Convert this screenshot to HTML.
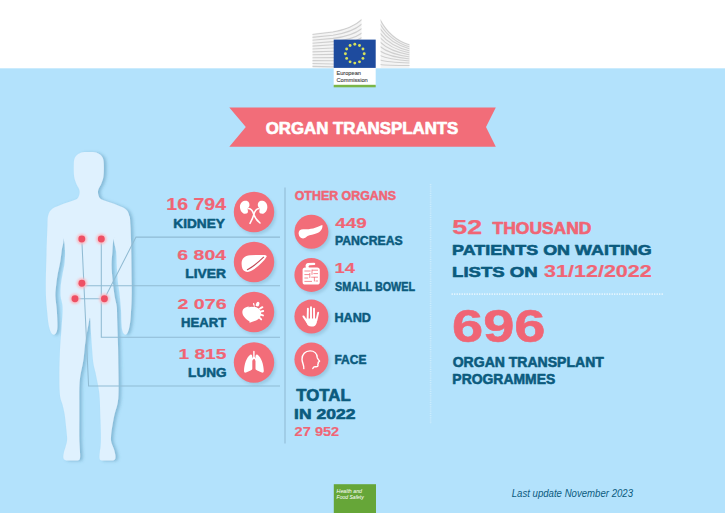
<!DOCTYPE html>
<html><head><meta charset="utf-8"><title>Organ transplants</title>
<style>
html,body{margin:0;padding:0;background:#b3e2fc;}
body{width:725px;height:513px;overflow:hidden;font-family:"Liberation Sans",sans-serif;}
svg{display:block}
svg text{font-family:"Liberation Sans",sans-serif;}
</style></head><body>
<svg width="725" height="513" viewBox="0 0 725 513">
<defs>
  <filter id="sh" x="-30%" y="-30%" width="160%" height="160%"><feGaussianBlur stdDeviation="1.6"/></filter>
  <filter id="halo" x="-50%" y="-50%" width="200%" height="200%"><feGaussianBlur stdDeviation="1.0"/></filter>
  <clipPath id="lw"><path d="M312.5,33.5 L333,31 C345,29 355,25 361.5,18.5 L361.5,68 L312.5,68 Z"/></clipPath>
  <clipPath id="rw"><path d="M380.6,18.5 C386,30 396,40 409.5,44 L409.5,68 L380.6,68 Z"/></clipPath>
</defs>
<!-- background -->
<rect x="0" y="0" width="725" height="513" fill="#b3e2fc"/>
<rect x="0" y="0" width="725" height="68.3" fill="#ffffff"/>
<!-- LOGO -->
<g id="logo">
  <g clip-path="url(#lw)">
    <rect x="312" y="18" width="50" height="50" fill="#f4f4f4"/>
    <g stroke="#cfcfcf" stroke-width="1.1" fill="none">
      <path d="M312,34.5 L333,32 C345,30 355,26 362,19.5"/>
      <path d="M312,37.4 L333,35.2 C345,33.5 355,30 362,24"/>
      <path d="M312,40.3 L333,38.4 C345,37 355,34 362,28.5"/>
      <path d="M312,43.2 L333,41.6 C345,40.5 355,38 362,33"/>
      <path d="M312,46.1 L333,44.8 C345,44 355,42 362,37.5"/>
      <path d="M312,49 L333,48 C345,47.5 355,46 362,42"/>
      <path d="M312,51.9 L333,51.2 C345,51 355,50 362,46.5"/>
      <path d="M312,54.8 L333,54.4 C345,54.4 355,54 362,51"/>
      <path d="M312,57.7 L333,57.6 C345,57.8 355,58 362,55.5"/>
      <path d="M312,60.6 L333,60.8 C345,61.2 355,61.5 362,60"/>
      <path d="M312,63.5 L333,64 C345,64.5 355,65 362,64.5"/>
      <path d="M312,66.4 L362,67.5"/>
    </g>
  </g>
  <g clip-path="url(#rw)">
    <rect x="380" y="18" width="30" height="50" fill="#f4f4f4"/>
    <g stroke="#cfcfcf" stroke-width="1.1" fill="none">
      <path d="M380,19.5 C386,31 396,41 410,45"/>
      <path d="M380,24 C386,34 396,43 410,47"/>
      <path d="M380,28.5 C386,37.5 396,45 410,49"/>
      <path d="M380,33 C386,41 396,47.5 410,51"/>
      <path d="M380,37.5 C386,44.5 396,50 410,53"/>
      <path d="M380,42 C386,48 396,52.5 410,55"/>
      <path d="M380,46.5 C386,51.5 396,55 410,57"/>
      <path d="M380,51 C386,55 396,57.5 410,59"/>
      <path d="M380,55.5 C386,58.5 396,60 410,61"/>
      <path d="M380,60 C386,62 396,62.5 410,63"/>
      <path d="M380,64.5 C386,65.5 396,65.5 410,65.5"/>
    </g>
  </g>
  <rect x="333.7" y="67" width="42" height="18.5" fill="#ffffff"/>
  <rect x="333.7" y="84.8" width="42" height="2.5" fill="#7ab648"/>
  <rect x="333.7" y="39.6" width="42" height="28.3" fill="#1e4b9e"/>
  <g fill="#d8e25c"><circle cx="354.80" cy="44.30" r="1.45"/><circle cx="359.50" cy="45.56" r="1.45"/><circle cx="362.94" cy="49.00" r="1.45"/><circle cx="364.20" cy="53.70" r="1.45"/><circle cx="362.94" cy="58.40" r="1.45"/><circle cx="359.50" cy="61.84" r="1.45"/><circle cx="354.80" cy="63.10" r="1.45"/><circle cx="350.10" cy="61.84" r="1.45"/><circle cx="346.66" cy="58.40" r="1.45"/><circle cx="345.40" cy="53.70" r="1.45"/><circle cx="346.66" cy="49.00" r="1.45"/><circle cx="350.10" cy="45.56" r="1.45"/></g>
  <text x="336.4" y="75.1" font-size="5.8" fill="#444" stroke="#444" stroke-width="0.12" textLength="24.6" lengthAdjust="spacingAndGlyphs">European</text>
  <text x="336.4" y="81.9" font-size="5.8" fill="#444" stroke="#444" stroke-width="0.12" textLength="31.4" lengthAdjust="spacingAndGlyphs">Commission</text>
</g>
<!-- RIBBON -->
<polygon points="229.3,107.4 495.8,107.4 486,127.1 495.8,146.8 229.3,146.8 245.8,127.1" fill="#f26d79"/>
<!-- BODY -->
<g id="body">
<filter id="bsh" x="-20%" y="-5%" width="150%" height="110%"><feDropShadow dx="2.6" dy="0.6" stdDeviation="1.4" flood-color="#2f7596" flood-opacity="0.36"/></filter>
<g filter="url(#bsh)">
<path d="M129.2,216.0 C130.3,217.2 130.1,221.0 130.4,225.0 C130.7,229.0 130.8,235.2 131.0,240.0 C131.2,244.8 131.2,246.5 131.3,254.0 C131.4,261.5 131.6,277.3 131.7,285.0 C131.8,292.7 131.7,295.5 131.6,300.0 C131.5,304.5 131.2,308.3 131.0,312.0 C130.8,315.7 130.6,319.1 130.2,322.0 C129.8,324.9 129.4,327.4 128.8,329.5 C128.2,331.6 127.2,333.6 126.4,334.3 C125.6,335.1 124.7,334.7 124.0,334.0 C123.3,333.3 122.6,332.0 122.2,330.0 C121.8,328.0 121.6,325.3 121.4,322.0 C121.2,318.7 121.3,314.3 121.0,310.0 C120.7,305.7 120.3,300.8 119.8,296.0 C119.3,291.2 118.3,286.0 117.8,281.0 C117.3,276.0 117.1,270.8 116.8,266.0 C116.5,261.2 116.7,256.5 116.2,252.0 C115.7,247.5 113.6,243.0 113.9,239.0 C114.2,235.0 116.3,231.5 118.0,228.0 C119.7,224.5 122.1,220.0 124.0,218.0 C125.9,216.0 128.1,214.8 129.2,216.0 Z" fill="#dff1fe"/>
<path d="M88.8,152.0 C90.9,152.0 93.1,151.9 95.0,152.3 C96.9,152.7 98.7,153.5 100.0,154.5 C101.3,155.5 102.4,156.9 103.0,158.5 C103.6,160.1 103.7,161.8 103.8,164.0 C103.9,166.2 103.9,169.7 103.8,172.0 C103.7,174.3 103.6,176.0 103.2,178.0 C102.8,180.0 101.9,182.2 101.2,184.0 C100.5,185.8 99.3,187.2 98.8,188.5 C98.3,189.8 98.1,190.4 98.0,191.5 C97.9,192.6 98.0,193.8 98.4,195.0 C98.8,196.2 99.1,197.5 100.2,198.5 C101.3,199.5 103.2,200.1 105.0,200.8 C106.8,201.5 109.0,202.1 111.0,202.8 C113.0,203.5 115.1,204.2 117.0,205.0 C118.9,205.8 121.0,206.5 122.6,207.3 C124.2,208.1 125.5,209.0 126.5,210.0 C127.5,211.0 128.2,212.1 128.6,213.4 C129.0,214.7 129.5,215.9 129.2,218.0 C128.9,220.1 128.5,223.3 127.0,226.0 C125.5,228.7 122.2,231.8 120.0,234.0 C117.8,236.2 115.2,236.0 113.9,239.0 C112.6,242.0 112.8,247.7 112.4,252.0 C112.0,256.3 111.6,260.3 111.6,265.0 C111.6,269.7 112.1,274.8 112.6,280.0 C113.1,285.2 113.9,291.5 114.6,296.0 C115.3,300.5 116.4,303.0 116.8,307.0 C117.2,311.0 117.0,313.7 117.2,320.0 C117.4,326.3 117.8,336.7 118.0,345.0 C118.2,353.3 118.3,363.3 118.4,370.0 C118.5,376.7 118.6,380.3 118.6,385.0 C118.6,389.7 118.6,394.5 118.3,398.0 C118.0,401.5 117.7,403.2 117.0,406.0 C116.3,408.8 115.2,411.3 114.4,415.0 C113.6,418.7 112.6,424.3 112.0,428.0 C111.4,431.7 111.1,434.7 111.0,437.0 C110.9,439.3 110.9,440.2 111.3,442.0 C111.7,443.8 112.8,446.0 113.5,448.0 C114.2,450.0 114.9,452.3 115.2,454.0 C115.5,455.7 115.6,457.0 115.4,458.0 C115.2,459.0 115.2,459.8 113.8,460.2 C112.4,460.6 109.1,460.5 107.0,460.5 C104.9,460.5 102.2,460.6 101.0,460.2 C99.8,459.8 99.7,459.4 99.5,458.0 C99.3,456.6 99.6,454.0 99.8,452.0 C100.0,450.0 100.4,448.5 100.6,446.0 C100.8,443.5 100.9,441.3 100.9,437.0 C100.9,432.7 100.7,426.2 100.5,420.0 C100.3,413.8 100.0,404.8 99.8,400.0 C99.5,395.2 99.4,393.8 99.0,391.0 C98.6,388.2 98.2,386.0 97.6,383.0 C97.0,380.0 96.3,376.5 95.6,373.0 C94.9,369.5 93.8,366.7 93.2,362.0 C92.6,357.3 92.2,350.3 91.8,345.0 C91.4,339.7 91.1,334.5 90.8,330.0 C90.5,325.5 90.4,318.6 90.0,317.8 C89.6,317.0 89.0,322.1 88.4,325.0 C87.8,327.9 87.1,331.7 86.5,335.0 C85.9,338.3 85.5,341.3 85.0,345.0 C84.5,348.7 84.2,353.7 83.8,357.0 C83.4,360.3 83.0,362.5 82.5,365.0 C82.0,367.5 81.5,369.5 81.0,372.0 C80.5,374.5 80.1,377.0 79.8,380.0 C79.5,383.0 79.4,386.7 79.3,390.0 C79.2,393.3 79.3,395.0 79.3,400.0 C79.3,405.0 79.3,413.8 79.3,420.0 C79.3,426.2 79.2,432.8 79.3,437.0 C79.3,441.2 79.5,442.5 79.6,445.0 C79.7,447.5 79.9,449.8 80.0,452.0 C80.1,454.2 80.3,456.6 80.0,458.0 C79.7,459.4 79.7,459.8 78.4,460.2 C77.1,460.6 74.1,460.5 72.0,460.5 C69.9,460.5 67.0,460.6 65.6,460.2 C64.2,459.8 63.7,459.2 63.4,458.0 C63.1,456.8 63.4,454.8 63.8,453.0 C64.1,451.2 65.0,449.0 65.5,447.0 C66.0,445.0 66.8,442.8 67.0,441.0 C67.2,439.2 67.2,438.7 67.0,436.0 C66.8,433.3 66.3,428.7 65.9,425.0 C65.5,421.3 65.1,417.3 64.6,414.0 C64.0,410.7 63.3,407.7 62.6,405.0 C61.9,402.3 60.9,400.5 60.4,398.0 C59.9,395.5 59.8,393.0 59.6,390.0 C59.4,387.0 59.4,383.3 59.4,380.0 C59.4,376.7 59.3,375.0 59.4,370.0 C59.5,365.0 59.7,356.7 60.0,350.0 C60.3,343.3 61.0,336.0 61.4,330.0 C61.8,324.0 62.3,318.2 62.5,314.0 C62.7,309.8 62.7,308.0 62.4,305.0 C62.1,302.0 60.9,299.3 60.6,296.0 C60.3,292.7 60.5,288.7 60.8,285.0 C61.1,281.3 62.0,277.7 62.6,274.0 C63.2,270.3 64.2,266.8 64.6,263.0 C65.0,259.2 65.2,255.0 65.0,251.0 C64.8,247.0 64.7,241.8 63.4,239.0 C62.1,236.2 59.1,236.2 57.0,234.0 C54.9,231.8 52.0,228.7 50.5,226.0 C49.0,223.3 48.5,220.1 48.2,218.0 C47.9,215.9 48.3,214.7 48.8,213.4 C49.3,212.1 50.0,211.0 51.0,210.0 C52.0,209.0 53.2,208.1 54.8,207.3 C56.4,206.5 58.5,205.8 60.5,205.0 C62.5,204.2 64.5,203.5 66.5,202.8 C68.5,202.1 70.7,201.5 72.5,200.8 C74.3,200.1 76.3,199.5 77.4,198.5 C78.5,197.5 78.8,196.2 79.2,195.0 C79.6,193.8 79.7,192.6 79.6,191.5 C79.5,190.4 79.3,189.8 78.8,188.5 C78.3,187.2 77.1,185.8 76.4,184.0 C75.7,182.2 74.8,180.0 74.4,178.0 C74.0,176.0 73.9,174.3 73.8,172.0 C73.7,169.7 73.7,166.2 73.8,164.0 C73.9,161.8 74.0,160.1 74.6,158.5 C75.2,156.9 76.3,155.5 77.6,154.5 C78.9,153.5 80.7,152.7 82.6,152.3 C84.5,151.9 86.7,152.0 88.8,152.0 Z" fill="#dff1fe"/>
<path d="M48.3,216.0 C47.4,217.2 47.7,221.0 47.5,225.0 C47.3,229.0 47.1,235.2 46.9,240.0 C46.7,244.8 46.7,246.5 46.5,254.0 C46.3,261.5 45.8,277.3 45.8,285.0 C45.8,292.7 46.0,295.5 46.2,300.0 C46.4,304.5 46.9,308.3 47.2,312.0 C47.5,315.7 47.8,319.1 48.2,322.0 C48.6,324.9 49.1,327.4 49.8,329.5 C50.5,331.6 51.5,333.6 52.5,334.3 C53.5,335.0 54.7,334.6 55.5,333.8 C56.3,333.0 56.9,331.5 57.2,329.5 C57.5,327.5 57.5,325.2 57.4,322.0 C57.3,318.8 57.1,314.3 56.8,310.0 C56.5,305.7 55.5,300.2 55.4,296.0 C55.3,291.8 55.8,288.8 56.2,285.0 C56.6,281.2 57.2,276.8 57.9,273.0 C58.6,269.2 59.6,265.8 60.2,262.0 C60.9,258.2 61.3,253.8 61.8,250.0 C62.3,246.2 63.9,242.7 63.4,239.0 C62.9,235.3 60.7,231.5 59.0,228.0 C57.3,224.5 54.8,220.0 53.0,218.0 C51.2,216.0 49.2,214.8 48.3,216.0 Z" fill="#dff1fe"/>
</g>

</g>
<!-- LEADER LINES -->
<g stroke="#90bbd3" stroke-width="1.05" fill="none">
  <path d="M280,237.1 L136,237.1 L104.4,298.8 L75,298.8"/>
  <path d="M280,285.7 L82,285.7"/>
  <path d="M280,337.2 L101.3,337.2 L101.3,239"/>
  <path d="M280,386 L88.6,386 L81.8,239"/>
  <path d="M285,187.5 L285,443.5"/>
</g>
<!-- DOTS -->
<g>
  <g fill="#f9bcc4" filter="url(#halo)"><circle cx="81.8" cy="239" r="5.2"/><circle cx="101.3" cy="239" r="5.2"/><circle cx="81.9" cy="283.3" r="5.2"/><circle cx="75" cy="298.8" r="5.2"/><circle cx="104.4" cy="298.8" r="5.2"/></g>
  <g fill="#ee5064"><circle cx="81.8" cy="239" r="3.45"/><circle cx="101.3" cy="239" r="3.45"/><circle cx="81.9" cy="283.3" r="3.45"/><circle cx="75" cy="298.8" r="3.45"/><circle cx="104.4" cy="298.8" r="3.45"/></g>
</g>
<!-- CIRCLES -->
<g fill="#6f9db8" opacity="0.35" filter="url(#sh)">
  <circle cx="256" cy="214.5" r="20"/><circle cx="256" cy="264.5" r="20"/><circle cx="256" cy="314.5" r="20"/><circle cx="256" cy="365" r="20"/>
  <circle cx="313.3" cy="234" r="17"/><circle cx="313.3" cy="277.3" r="17"/><circle cx="313.3" cy="319" r="17"/><circle cx="313.3" cy="362" r="17"/>
</g>
<g fill="#f26d79">
  <circle cx="254" cy="212" r="20.2"/><circle cx="254" cy="262" r="20.2"/><circle cx="254" cy="312" r="20.2"/><circle cx="254" cy="362.5" r="20.2"/>
  <circle cx="311.4" cy="231.8" r="17"/><circle cx="311.4" cy="274.9" r="17"/><circle cx="311.4" cy="316.6" r="17"/><circle cx="311.4" cy="359.5" r="17"/>
</g>
<!--ICONS_START-->
<g id="icons" fill="#ffffff" stroke="none">
  <!-- kidney -->
  <g>
    <path transform="translate(244.7,207.2) scale(1.1,1.03) translate(-244.6,-207.4)" d="M244.6,201.2 C247.6,200.6 249.3,203 248.9,206 C248.7,207.6 247.2,207.8 247.3,209.2 C247.4,211 248.3,212.8 246.2,213.6 C243.4,214.4 240.6,211.8 240.3,207.6 C240.1,204.3 241.8,201.7 244.6,201.2 Z"/>
    <path transform="translate(262.6,207.2) scale(1.1,1.03) translate(-263.4,-207.4)" d="M263.4,201.2 C260.4,200.6 258.7,203 259.1,206 C259.3,207.6 260.8,207.8 260.7,209.2 C260.6,211 259.7,212.8 261.8,213.6 C264.6,214.4 267.4,211.8 267.7,207.6 C267.9,204.3 266.2,201.7 263.4,201.2 Z"/>
    <path d="M248.6,208.6 C251.4,209 252.8,211.2 253.6,214 C254.8,217.6 257.2,220.8 260,223" fill="none" stroke="#fff" stroke-width="1.5" stroke-linecap="round"/>
    <path d="M258.8,208.6 C256.2,209 254.8,211.2 254,214 C253,217.6 251.4,220.8 250,223.4" fill="none" stroke="#fff" stroke-width="1.5" stroke-linecap="round"/>
  </g>
  <!-- liver -->
  <g>
    <path d="M241.6,264 C241.4,258.8 244.6,255.4 250,255.2 L262.6,254.9 C265.6,254.9 267.2,255.6 266.6,256.8 C264,261 259.4,265.6 253.6,269.6 C250.6,271.6 247.6,272.4 245.4,271.6 C242.8,270.6 241.7,268 241.6,264 Z"/>
    <path d="M263.6,257.2 C259,261.8 254,266 247.4,269.8" fill="none" stroke="#c04855" stroke-width="1.05" stroke-linecap="round"/>
  </g>
  <!-- heart -->
  <g>
    <path d="M242.4,311.4 C242.8,308.2 246.2,306.4 250.6,306.4 C255.2,306.4 259.6,307.8 260.8,311.4 C261.9,314.8 260.2,318.2 256.6,320.2 C254.6,321.3 252.2,321.4 250.4,322.6 C249.6,323.1 249.2,322.2 249.5,321.3 C246.8,319.6 241.8,315.8 242.4,311.4 Z"/>
    <ellipse cx="257.6" cy="304.4" rx="1.7" ry="2.6" transform="rotate(24 257.6 304.4)"/>
    <path d="M259.8,308.6 L262.4,307.2 M260.6,311.6 L263.2,311 M260.6,314.6 L263,315.4 M259.4,317.6 L261.2,319.4" fill="none" stroke="#fff" stroke-width="1.9" stroke-linecap="round"/>
    <path d="M254.4,306.6 L253.6,303.6" fill="none" stroke="#fff" stroke-width="1.3" stroke-linecap="round"/>
    <path d="M248.6,306.9 C252,305.6 256.4,305.8 259.6,307.6" fill="none" stroke="#dc5d6b" stroke-width="0.7"/>
  </g>
  <!-- lungs -->
  <g>
    <path d="M250.6,354.6 C251.8,354.2 252.3,355.4 252.3,357 L252.3,368.6 C252.3,369.8 251.6,370.2 250.6,370.4 L246,372.6 C244.6,373 244,372.2 244,370.8 C244.2,364.6 246.4,357.4 250.6,354.6 Z"/>
    <path d="M257.2,354.6 C256,354.2 255.5,355.4 255.5,357 L255.5,368.6 C255.5,369.8 256.2,370.2 257.2,370.4 L261.8,372.6 C263.2,373 263.8,372.2 263.8,370.8 C263.6,364.6 261.4,357.4 257.2,354.6 Z"/>
    <path d="M253.9,351.4 L253.9,358.5 M253.9,357 L251,361 M253.9,357 L256.8,361" fill="none" stroke="#fff" stroke-width="1.4" stroke-linecap="round"/>
  </g>
  <!-- pancreas -->
  <g>
    <path d="M298.6,233.6 C298.4,230.4 300.6,229 303.8,229.2 C308,229.5 311.8,229 315.2,227.8 C318.2,226.8 320.4,225.2 322.4,224.9 C322.9,228.4 320.8,231.4 317.4,233 C313.8,234.6 309.8,234.8 307.6,236 C306,236.9 305.6,238.3 303.2,238.4 C300.6,238.5 298.8,236.8 298.6,233.6 Z"/>
  </g>
  <!-- small bowel -->
  <g>
    <rect x="302.6" y="267.4" width="17.2" height="17.2" rx="2.6" ry="2.6"/>
    <path d="M306.6,268.4 C305,266.4 305.2,263.4 308,262.9 L314,262.7 C315.6,262.7 315.8,264.9 314.2,265 L309.8,265.2 C308.6,265.4 308.2,266.6 308.8,267.6 L309.6,268.6 Z"/>
    <g fill="none" stroke="#f26d79" stroke-width="0.8" stroke-linecap="round">
      <path d="M304.8,271 L310.2,271 M312.4,270.2 L317.6,270.2 M312,270 L312,274.4"/>
      <path d="M304.8,274.6 L309.4,274.6 M313.8,273.6 L317.6,273.6 M309.8,273.4 L309.8,277.6"/>
      <path d="M304.8,278 L307.8,278 M311.6,277.2 L317.6,277.2 M314.4,277.4 L314.4,281"/>
      <path d="M304.8,281.4 L311.6,281.4 M316,281 L317.6,281"/>
    </g>
  </g>
  <!-- hand -->
  <g>
    <path d="M306.4,318.6 L306.6,322.6 C306.8,325.2 308.8,326.6 311.4,326.6 C314.4,326.6 316.2,325.2 316.8,322.4 L317,318.4 Z"/>
    <path d="M307.6,320 L307.9,308.6 M311,320 L311,307.2 M314.1,320 L314,308.6 M316.4,320.6 L318.2,312.6 M307.4,322.4 L303.4,316.4" fill="none" stroke="#fff" stroke-width="1.9" stroke-linecap="round"/>
  </g>
  <!-- face -->
  <g>
    <path d="M303.8,368.6 C304.2,365.6 302.2,363 302,359.4 C301.8,354.4 305.4,350.9 310,350.9 C314.4,350.9 317,353.8 317.2,357.4 C317.3,358.6 318.6,359.8 319.5,361 C319.8,361.6 318.6,361.8 318.2,362.2 L318.3,363.4 L317.8,364.4 L318,365.8 C317.8,366.8 316.4,366.8 315,366.6 C313.8,366.6 313.2,367.6 312.8,368.6" fill="none" stroke="#fff" stroke-width="1.4" stroke-linecap="round" stroke-linejoin="round"/>
  </g>
</g>

<!--ICONS_END-->
<!-- DOTTED LINES -->
<g fill="none">
  <path d="M430.6,184 L430.6,424" stroke="#e4f5fe" stroke-width="1.6" stroke-dasharray="1.2 1.0" opacity="0.5"/>
  <path d="M451.6,294.2 L663.5,294.2" stroke="#e9f7fe" stroke-width="1.7" stroke-dasharray="1.2 1.3"/>
</g>
<!-- GREEN BOX -->
<rect x="333.8" y="484.2" width="42.2" height="30" fill="#66a638"/>
<text x="336.6" y="492.7" font-size="5.6" font-style="italic" fill="#ffffff" textLength="25.4" lengthAdjust="spacingAndGlyphs">Health and</text>
<text x="336.6" y="499" font-size="5.6" font-style="italic" fill="#ffffff" textLength="27.2" lengthAdjust="spacingAndGlyphs">Food Safety</text>

<text x="265.65" y="134.16" font-size="17.17" font-weight="700" fill="#ffffff" stroke="#ffffff" stroke-width="0.69" stroke-linejoin="round" textLength="192.67" lengthAdjust="spacingAndGlyphs">ORGAN TRANSPLANTS</text>
<text x="166.39" y="210.41" font-size="15.71" font-weight="700" fill="#f06575" stroke="#f06575" stroke-width="0.19" stroke-linejoin="round" textLength="59.63" lengthAdjust="spacingAndGlyphs">16 794</text>
<text x="173.35" y="228.15" font-size="12.64" font-weight="700" fill="#0b5b7e" stroke="#0b5b7e" stroke-width="0.51" stroke-linejoin="round" textLength="51.62" lengthAdjust="spacingAndGlyphs">KIDNEY</text>
<text x="177.39" y="259.91" font-size="15.00" font-weight="700" fill="#f06575" stroke="#f06575" stroke-width="0.18" stroke-linejoin="round" textLength="48.63" lengthAdjust="spacingAndGlyphs">6 804</text>
<text x="185.34" y="277.75" font-size="12.71" font-weight="700" fill="#0b5b7e" stroke="#0b5b7e" stroke-width="0.51" stroke-linejoin="round" textLength="40.68" lengthAdjust="spacingAndGlyphs">LIVER</text>
<text x="177.42" y="309.41" font-size="15.36" font-weight="700" fill="#f06575" stroke="#f06575" stroke-width="0.18" stroke-linejoin="round" textLength="49.18" lengthAdjust="spacingAndGlyphs">2 076</text>
<text x="181.14" y="327.24" font-size="13.05" font-weight="700" fill="#0b5b7e" stroke="#0b5b7e" stroke-width="0.52" stroke-linejoin="round" textLength="45.22" lengthAdjust="spacingAndGlyphs">HEART</text>
<text x="178.40" y="358.66" font-size="15.36" font-weight="700" fill="#f06575" stroke="#f06575" stroke-width="0.18" stroke-linejoin="round" textLength="48.03" lengthAdjust="spacingAndGlyphs">1 815</text>
<text x="188.11" y="376.50" font-size="12.71" font-weight="700" fill="#0b5b7e" stroke="#0b5b7e" stroke-width="0.51" stroke-linejoin="round" textLength="38.48" lengthAdjust="spacingAndGlyphs">LUNG</text>
<text x="294.73" y="199.76" font-size="12.02" font-weight="700" fill="#f06575" stroke="#f06575" stroke-width="0.48" stroke-linejoin="round" textLength="101.26" lengthAdjust="spacingAndGlyphs">OTHER ORGANS</text>
<text x="335.31" y="227.91" font-size="15.00" font-weight="700" fill="#f06575" stroke="#f06575" stroke-width="0.18" stroke-linejoin="round" textLength="31.54" lengthAdjust="spacingAndGlyphs">449</text>
<text x="334.93" y="244.76" font-size="12.02" font-weight="700" fill="#0b5b7e" stroke="#0b5b7e" stroke-width="0.48" stroke-linejoin="round" textLength="67.80" lengthAdjust="spacingAndGlyphs">PANCREAS</text>
<text x="334.44" y="273.41" font-size="15.14" font-weight="700" fill="#f06575" stroke="#f06575" stroke-width="0.18" stroke-linejoin="round" textLength="20.56" lengthAdjust="spacingAndGlyphs">14</text>
<text x="334.94" y="291.01" font-size="12.02" font-weight="700" fill="#0b5b7e" stroke="#0b5b7e" stroke-width="0.48" stroke-linejoin="round" textLength="80.15" lengthAdjust="spacingAndGlyphs">SMALL BOWEL</text>
<text x="334.42" y="321.50" font-size="12.71" font-weight="700" fill="#0b5b7e" stroke="#0b5b7e" stroke-width="0.51" stroke-linejoin="round" textLength="36.59" lengthAdjust="spacingAndGlyphs">HAND</text>
<text x="334.46" y="364.00" font-size="12.71" font-weight="700" fill="#0b5b7e" stroke="#0b5b7e" stroke-width="0.51" stroke-linejoin="round" textLength="32.00" lengthAdjust="spacingAndGlyphs">FACE</text>
<text x="296.39" y="400.93" font-size="16.14" font-weight="700" fill="#0b5b7e" stroke="#0b5b7e" stroke-width="0.65" stroke-linejoin="round" textLength="54.30" lengthAdjust="spacingAndGlyphs">TOTAL</text>
<text x="294.13" y="418.96" font-size="14.42" font-weight="700" fill="#0b5b7e" stroke="#0b5b7e" stroke-width="0.58" stroke-linejoin="round" textLength="61.27" lengthAdjust="spacingAndGlyphs">IN 2022</text>
<text x="294.58" y="436.17" font-size="13.21" font-weight="700" fill="#f06575" stroke="#f06575" stroke-width="0.16" stroke-linejoin="round" textLength="44.67" lengthAdjust="spacingAndGlyphs">27 952</text>
<text x="452.32" y="234.38" font-size="20.71" font-weight="700" fill="#f06575" stroke="#f06575" stroke-width="0.25" stroke-linejoin="round" textLength="29.86" lengthAdjust="spacingAndGlyphs">52</text>
<text x="492.62" y="234.18" font-size="15.80" font-weight="700" fill="#f06575" stroke="#f06575" stroke-width="0.63" stroke-linejoin="round" textLength="98.78" lengthAdjust="spacingAndGlyphs">THOUSAND</text>
<text x="452.12" y="255.44" font-size="15.45" font-weight="700" fill="#0b5b7e" stroke="#0b5b7e" stroke-width="0.62" stroke-linejoin="round" textLength="199.67" lengthAdjust="spacingAndGlyphs">PATIENTS ON WAITING</text>
<text x="452.08" y="276.69" font-size="15.45" font-weight="700" fill="#0b5b7e" stroke="#0b5b7e" stroke-width="0.62" stroke-linejoin="round" textLength="85.61" lengthAdjust="spacingAndGlyphs">LISTS ON</text>
<text x="544.12" y="276.90" font-size="16.07" font-weight="700" fill="#f06575" stroke="#f06575" stroke-width="0.19" stroke-linejoin="round" textLength="107.62" lengthAdjust="spacingAndGlyphs">31/12/2022</text>
<text x="452.01" y="341.92" font-size="46.00" font-weight="700" fill="#f06575" stroke="#f06575" stroke-width="0.55" stroke-linejoin="round" textLength="93.45" lengthAdjust="spacingAndGlyphs">696</text>
<text x="452.70" y="366.63" font-size="13.74" font-weight="700" fill="#0b5b7e" stroke="#0b5b7e" stroke-width="0.55" stroke-linejoin="round" textLength="151.16" lengthAdjust="spacingAndGlyphs">ORGAN TRANSPLANT</text>
<text x="452.36" y="383.83" font-size="13.74" font-weight="700" fill="#0b5b7e" stroke="#0b5b7e" stroke-width="0.55" stroke-linejoin="round" textLength="102.92" lengthAdjust="spacingAndGlyphs">PROGRAMMES</text>
<text x="511.71" y="497.00" font-size="10.90" font-style="italic" fill="#0b5b7e" stroke="#0b5b7e" stroke-width="0.00" stroke-linejoin="round" textLength="121.36" lengthAdjust="spacingAndGlyphs">Last update November 2023</text>
</svg>
</body></html>
